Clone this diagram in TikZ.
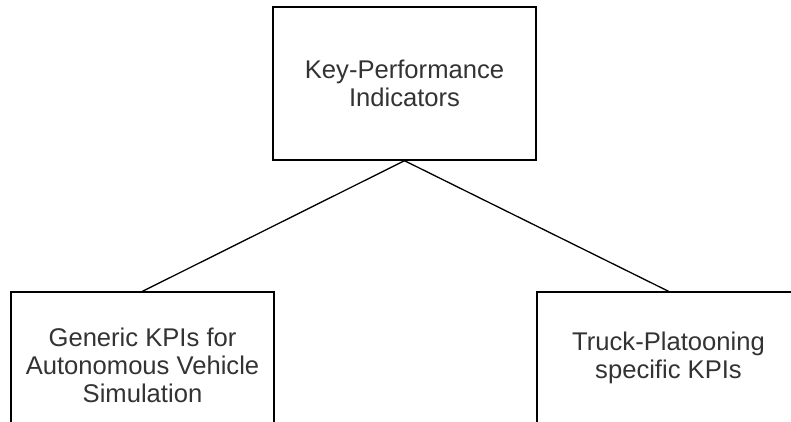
\documentclass[tikz,border=0pt]{standalone}
\usepackage{fontspec}
\setmainfont{Liberation Sans}
\begin{document}
\begin{tikzpicture}[x=1pt,y=-1pt,
  kpibox/.style={draw=black, line width=1.4pt, fill=white, rectangle,
    minimum width=263pt, inner sep=0pt, align=center, text=black!80,
    font=\fontsize{25.6pt}{28pt}\selectfont},
  link/.style={draw=black, line width=1.3pt}]
  \useasboundingbox (0,0) rectangle (791,421);
  \clip (0,0) rectangle (791,421);
  \fill[white] (0,0) rectangle (791,421);
  % root and the two KPI groups
  \node[kpibox, minimum height=153pt] (root) at (404.5,83.5) {Key-Performance\\Indicators};
  \node[kpibox, minimum height=146pt] (generic) at (142.5,365) {Generic KPIs for\\Autonomous Vehicle\\Simulation};
  \node[kpibox, minimum height=132pt] (truck) at (668.5,358) {Truck-Platooning\\specific KPIs};
  % tree links
  \draw[link] (root.south) -- (generic.north);
  \draw[link] (root.south) -- (truck.north);
\end{tikzpicture}
\end{document}
